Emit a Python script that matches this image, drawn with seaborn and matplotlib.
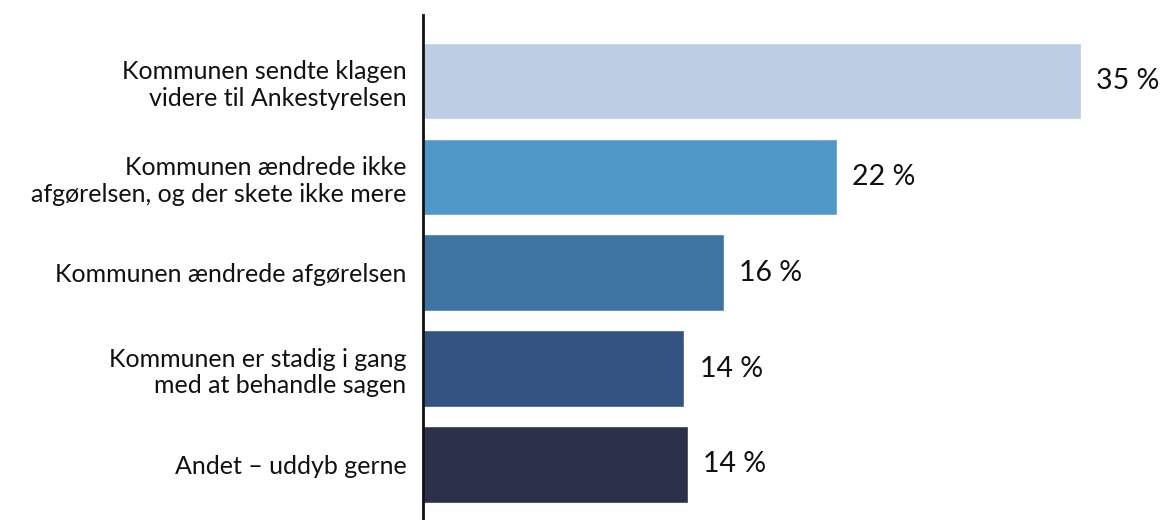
import matplotlib
matplotlib.use("Agg")
import matplotlib.pyplot as plt
import seaborn as sns
import pandas as pd

# data
categories = [
    "Kommunen sendte klagen\nvidere til Ankestyrelsen",
    "Kommunen ændrede ikke\nafgørelsen, og der skete ikke mere",
    "Kommunen ændrede afgørelsen",
    "Kommunen er stadig i gang\nmed at behandle sagen",
    "Andet – uddyb gerne",
]
shares = [35.0, 22.0, 16.0, 13.9, 14.1]
value_labels = ["35 %", "22 %", "16 %", "14 %", "14 %"]
bar_colors = ["#BDCDE3", "#4F97C7", "#3E74A2", "#335381", "#2C3048"]

df = pd.DataFrame({"category": categories, "share": shares})

sns.set_style("white")
plt.rcParams["font.family"] = ["Lato", "DejaVu Sans"]

fig = plt.figure(figsize=(11.63, 5.2), dpi=100)
ax = fig.add_axes([423 / 1163, 0.0, 752 / 1163, 505 / 520])

sns.barplot(data=df, x="share", y="category", hue="category",
            palette=bar_colors, legend=False, width=0.8, saturation=1,
            orient="h", ax=ax)

for cont, lab in zip(ax.containers, value_labels):
    ax.bar_label(cont, labels=[lab], padding=11, fontsize=20.5, color="#111111")

ax.set_xlim(0, 40)
ax.set_ylim(4.58, -0.69)
ax.set_xlabel("")
ax.set_ylabel("")
ax.set_xticks([])
ax.tick_params(axis="y", length=0, pad=12, labelsize=18, labelcolor="#111111")
for lbl in ax.get_yticklabels():
    lbl.set_horizontalalignment("right")
    lbl.set_multialignment("right")
    lbl.set_linespacing(1.2)

sns.despine(ax=ax, left=False, bottom=True, top=True, right=True)
ax.spines["left"].set_color("#111111")
ax.spines["left"].set_linewidth(2)

fig.savefig("out.png", dpi=100)
